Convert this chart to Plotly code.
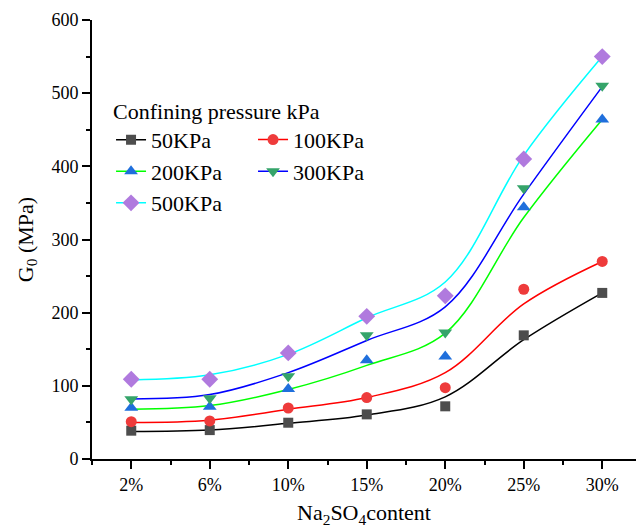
import plotly.graph_objects as go

categories = ["2%", "6%", "10%", "15%", "20%", "25%", "30%"]
series_names = ["50KPa", "100KPa", "200KPa", "300KPa", "500KPa"]

# measured points
g50 = [38.7, 39.5, 49.6, 61, 72, 169, 227]
g100 = [51, 52, 69.7, 84, 97.5, 232, 270]
g200 = [70, 71.5, 95.6, 135, 140, 344, 464]
g300 = [81.5, 83, 113, 169, 173, 370, 510]
g500 = [109, 109, 145, 195, 223, 410, 550]

# smooth fitted curve values at each category
c50 = [37.5, 39.5, 48.7, 60, 85, 163, 227]
c100 = [50, 53, 68, 84, 118, 212, 270]
c200 = [68, 73, 95, 128, 172, 330, 464]
c300 = [82, 88, 118, 162, 208, 362, 509]
c500 = [108, 115, 143, 193, 242, 415, 550]

points = [g50, g100, g200, g300, g500]
curves = [c50, c100, c200, c300, c500]
line_colors = ["#000000", "#ff0000", "#00ff00", "#0000ff", "#00ffff"]
marker_colors = ["#4d4d4d", "#ee3b3b", "#1f6fdc", "#35a46a", "#b07ade"]
symbols = ["square", "circle", "triangle-up", "triangle-down", "diamond"]
msizes = [10, 11, 12, 12, 13]
legend_ids = ["legend", "legend2", "legend", "legend2", "legend"]

xs = list(range(len(categories)))
fig = go.Figure()

for i in range(len(series_names)):
    fig.add_trace(go.Scatter(
        x=xs, y=curves[i], mode="lines", showlegend=False,
        line=dict(color=line_colors[i], width=1.5, shape="spline", smoothing=1.0),
        hoverinfo="skip"))

for i in range(len(series_names)):
    fig.add_trace(go.Scatter(
        x=xs, y=points[i], mode="markers", showlegend=False,
        marker=dict(symbol=symbols[i], size=msizes[i], color=marker_colors[i],
                    line=dict(width=0))))

for i in range(len(series_names)):
    fig.add_trace(go.Scatter(
        x=[None], y=[None], mode="lines+markers", name=series_names[i],
        legend=legend_ids[i],
        line=dict(color=line_colors[i], width=1.5),
        marker=dict(symbol=symbols[i], size=msizes[i], color=marker_colors[i],
                    line=dict(width=0))))

serif = "Liberation Serif"
lfont = dict(family=serif, size=22, color="black")

fig.update_layout(
    width=636, height=528,
    margin=dict(l=92, r=0, t=20, b=69),
    paper_bgcolor="white", plot_bgcolor="white",
    font=dict(family=serif, size=18, color="black"),
    legend=dict(
        orientation="v",
        x=0.035, y=0.84, xanchor="left", yanchor="top",
        bgcolor="rgba(0,0,0,0)",
        font=lfont,
        title=dict(text="Confining pressure kPa", side="top", font=lfont),
        tracegroupgap=0,
    ),
    legend2=dict(
        orientation="v",
        x=0.296, y=0.775, xanchor="left", yanchor="top",
        bgcolor="rgba(0,0,0,0)",
        font=lfont,
        tracegroupgap=0,
    ),
    xaxis=dict(
        range=[-0.5, 6.43], tickmode="array", tickvals=xs, ticktext=categories,
        showline=True, linecolor="black", linewidth=2,
        ticks="outside", ticklen=8, tickwidth=2, tickcolor="black",
        minor=dict(tickmode="linear", tick0=-0.5, dtick=1, ticks="outside",
                   ticklen=4, tickwidth=2, tickcolor="black"),
        showgrid=False, zeroline=False,
        tickfont=dict(family=serif, size=18),
        title=dict(text="Na<sub>2</sub>SO<sub>4</sub>content",
                   font=dict(family=serif, size=22), standoff=19),
    ),
    yaxis=dict(
        range=[0, 600], dtick=100,
        showline=True, linecolor="black", linewidth=2,
        ticks="outside", ticklen=8, tickwidth=2, tickcolor="black",
        minor=dict(dtick=50, ticks="outside", ticklen=4, tickwidth=2, tickcolor="black"),
        showgrid=False, zeroline=False,
        tickfont=dict(family=serif, size=18),
        title=dict(text="G<sub>0</sub> (MPa)", font=dict(family=serif, size=22), standoff=12),
    ),
)

fig.write_html("out.html")
